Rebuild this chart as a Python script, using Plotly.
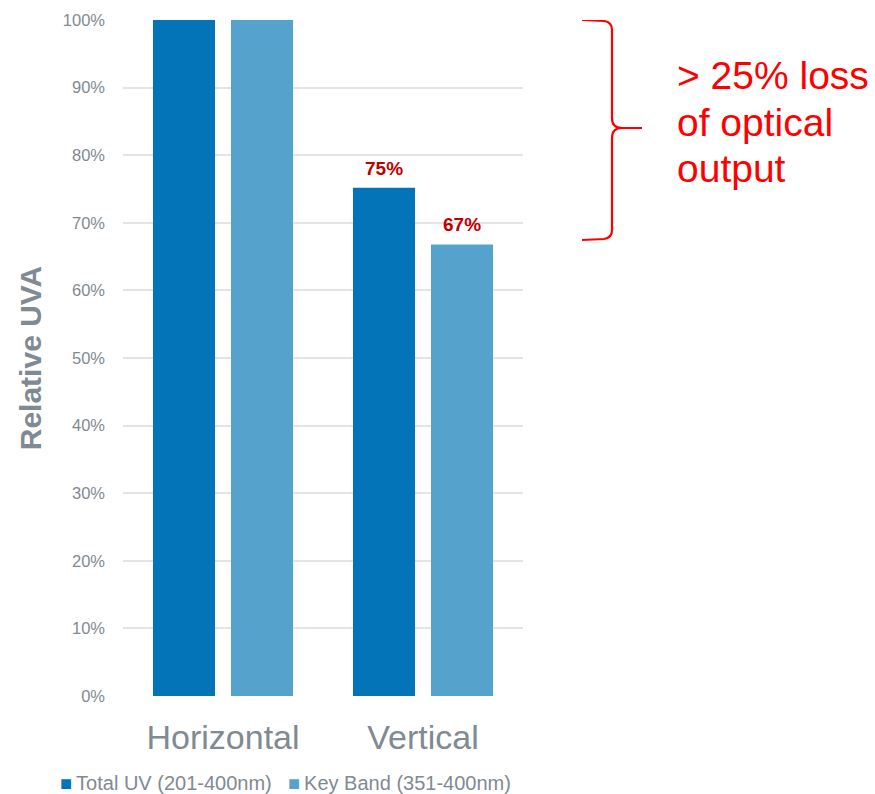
import plotly.graph_objects as go

categories = ["Horizontal", "Vertical"]
total_uv = [100, 75.2]
key_band = [100, 66.8]
total_labels = ["", "75%"]
key_labels = ["", "67%"]
series_names = ["Total UV (201-400nm)", "Key Band (351-400nm)"]
series_colors = ["#0374B8", "#55A3CD"]
annotation_lines = ["> 25% loss", "of optical", "output"]

FONT = "Arial, Liberation Sans, sans-serif"
GRAY = "#7F8A92"

L, R, T, B = 123, 352, 20, 98
W, H = 875, 794
pw = W - L - R
ph = H - T - B


def px2x(px):
    return (px - L) / pw


def py2paper(py):
    return (H - B - py) / ph


def py2y(py):
    return py2paper(py) * 100


fig = go.Figure()
for name, vals, labels, col, sh in [
    (series_names[0], total_uv, total_labels, series_colors[0], -39),
    (series_names[1], key_band, key_labels, series_colors[1], 39),
]:
    fig.add_trace(go.Bar(
        x=categories, y=vals, name=name,
        marker=dict(color=col, line=dict(width=0)),
        showlegend=False,
    ))
    for cat, v, lab in zip(categories, vals, labels):
        if lab:
            fig.add_annotation(
                x=cat, y=v, xref="x", yref="y", text=f"<b>{lab}</b>",
                showarrow=False, xanchor="center", yanchor="bottom",
                xshift=sh, yshift=7,
                font=dict(color="#C00000", size=19, family=FONT),
            )

# bracket
pts = [
    ("M", 582, 20), ("L", 604, 21), ("Q", 612, 22, 612, 30),
    ("L", 612, 118), ("Q", 612, 128, 622, 128), ("L", 642, 128),
    ("M", 622, 128), ("Q", 612, 128, 612, 138),
    ("L", 612, 230), ("Q", 612, 238, 604, 239), ("L", 582, 240),
]
path = ""
for p in pts:
    cmd = p[0]
    coords = p[1:]
    parts = []
    for i in range(0, len(coords), 2):
        parts.append(f"{px2x(coords[i]):.5f},{py2y(coords[i+1]):.4f}")
    path += cmd + " ".join(parts) + " "

fig.add_shape(type="path", path=path, xref="paper", yref="y",
              line=dict(color="#FF0000", width=2.2))

# callout text, one annotation per line
for i, line in enumerate(annotation_lines):
    fig.add_annotation(
        text=line, xref="paper", yref="paper",
        x=px2x(675), y=py2paper(76 + 46.5 * i), xanchor="left", yanchor="middle",
        showarrow=False, align="left",
        font=dict(color="#FF0000", size=39, family=FONT),
    )

# legend drawn as annotations
legend_x = [58, 286]
for name, col, lx in zip(series_names, series_colors, legend_x):
    fig.add_annotation(
        text=f"<span style='color:{col}'>■</span>\u2009{name}",
        xref="paper", yref="paper", x=px2x(lx), y=py2paper(783),
        xanchor="left", yanchor="middle", showarrow=False,
        font=dict(size=20, color=GRAY, family=FONT),
    )

fig.update_layout(
    width=W, height=H,
    margin=dict(l=L, r=R, t=T, b=B),
    paper_bgcolor="white", plot_bgcolor="white",
    barmode="group", bargap=0.22, bargroupgap=0.205,
    font=dict(family=FONT, color=GRAY),
    showlegend=False,
    xaxis=dict(tickfont=dict(size=34, color=GRAY, family=FONT),
               showgrid=False, showline=False, ticks="", automargin=False,
               ticklabelstandoff=18),
    yaxis=dict(range=[0, 100], dtick=10, ticksuffix="%", automargin=False,
               tickfont=dict(size=16.5, color=GRAY, family=FONT),
               gridcolor="#E4E4E4", gridwidth=1.5, zeroline=False,
               showline=False, ticklabelstandoff=17,
               title=dict(text="<b>Relative UVA</b>",
                          font=dict(size=30, color=GRAY, family=FONT),
                          standoff=12)),
)

fig.write_html("out.html")
